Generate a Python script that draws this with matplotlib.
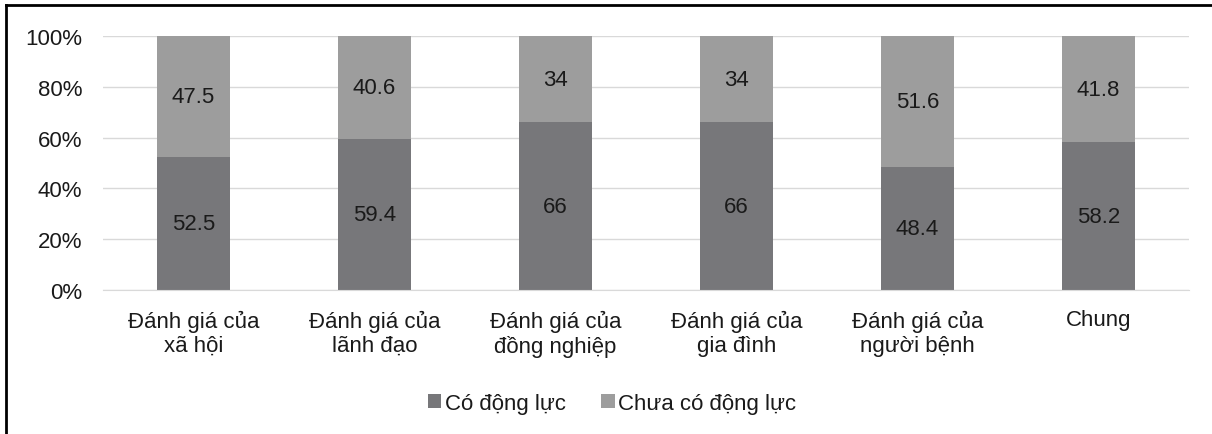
import matplotlib
matplotlib.use("Agg")
import matplotlib.pyplot as plt
from matplotlib.lines import Line2D
import numpy as np

plt.rcParams['font.family'] = ['Liberation Sans', 'DejaVu Sans']

categories = ["Đánh giá của\nxã hội", "Đánh giá của\nlãnh đạo", "Đánh giá của\nđồng nghiệp",
              "Đánh giá của\ngia đình", "Đánh giá của\nngười bệnh", "Chung"]
co_dong_luc = [52.5, 59.4, 66, 66, 48.4, 58.2]
chua_co_dong_luc = [47.5, 40.6, 34, 34, 51.6, 41.8]
labels_co = ["52.5", "59.4", "66", "66", "48.4", "58.2"]
labels_chua = ["47.5", "40.6", "34", "34", "51.6", "41.8"]

dark = "#77777a"
light = "#9d9d9d"
fs = 16

fig = plt.figure(figsize=(12.12, 4.35), dpi=100)
ax = fig.add_axes([0.085, 0.331, 0.896, 0.584])

x = np.arange(len(categories))
b1 = ax.bar(x, co_dong_luc, width=0.4, color=dark, label="Có động lực", zorder=3)
b2 = ax.bar(x, chua_co_dong_luc, width=0.4, bottom=co_dong_luc, color=light,
            label="Chưa có động lực", zorder=3)
ax.bar_label(b1, labels=labels_co, label_type='center', fontsize=fs, color="#1a1a1a")
ax.bar_label(b2, labels=labels_chua, label_type='center', fontsize=fs, color="#1a1a1a")

ax.set_xlim(-0.5, len(categories) - 0.5)
ax.set_ylim(0, 100)
ax.set_yticks(range(0, 101, 20))
ax.set_yticklabels([f"{v}%" for v in range(0, 101, 20)], fontsize=fs, color="#1a1a1a")
ax.set_xticks(x)
ax.set_xticklabels(categories, fontsize=fs, color="#1a1a1a", linespacing=1.2)
ax.tick_params(axis='x', length=0, pad=14)
ax.tick_params(axis='y', length=0, pad=15)
ax.grid(axis='y', color="#d9d9d9", linewidth=1, zorder=0)
for s in ["top", "right", "left"]:
    ax.spines[s].set_visible(False)
ax.spines["bottom"].set_color("#d9d9d9")
ax.spines["bottom"].set_zorder(4)

fig.legend(loc="center", bbox_to_anchor=(0.505, 0.07), ncol=2, frameon=False,
           fontsize=fs, handlelength=0.6, handleheight=0.6, handletextpad=0.15,
           columnspacing=1.6, labelcolor="#1a1a1a")

# outer frame (left and top only visible)
fig.add_artist(Line2D([0.005, 0.005], [0, 0.986], transform=fig.transFigure, color="black", lw=2))
fig.add_artist(Line2D([0.005, 1], [0.986, 0.986], transform=fig.transFigure, color="black", lw=2))

fig.savefig("out.png", dpi=100)
